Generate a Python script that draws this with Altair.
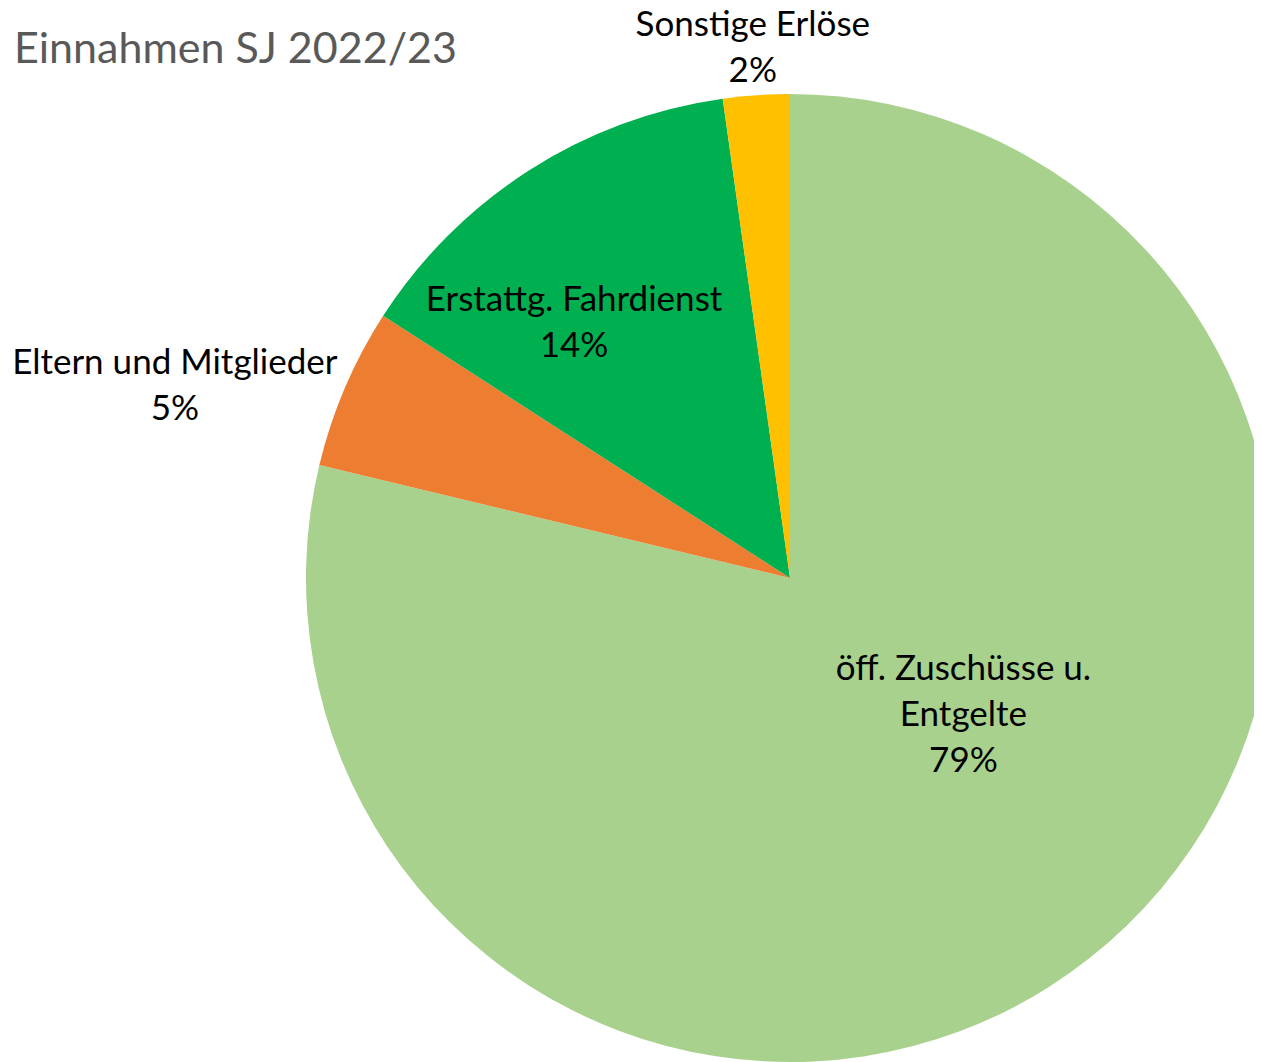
import altair as alt
import pandas as pd

categories = ["öff. Zuschüsse u. Entgelte", "Eltern und Mitglieder", "Erstattg. Fahrdienst", "Sonstige Erlöse"]
shares = [78.75, 5.36, 13.67, 2.22]
pct_labels = ["79%", "5%", "14%", "2%"]
colors = ["#A9D18E", "#ED7D31", "#00B050", "#FFC000"]
label_text = ["öff. Zuschüsse u.\nEntgelte", "Eltern und Mitglieder", "Erstattg. Fahrdienst", "Sonstige Erlöse"]
title_text = "Einnahmen SJ 2022/23"

df = pd.DataFrame({
    "cat": categories,
    "value": shares,
    "idx": list(range(len(categories))),
    "label": [t + "\n" + p for t, p in zip(label_text, pct_labels)],
})

LH = 46
# label placement (layout only): radius from centre and pixel nudges
label_layout = {
    categories[0]: (222, 36, -37 - LH),
    categories[1]: (644, -23, 61 - LH / 2),
    categories[2]: (334, -36, 26 - LH / 2),
    categories[3]: (534, 0, 3 - LH / 2),
}

CX, CY, R = 782, 570, 484
FONT = "Lato"

base = alt.Chart(df).encode(
    theta=alt.Theta("value:Q", stack=True),
    order=alt.Order("idx:Q", sort="ascending"),
)

pie = base.mark_arc(radius=R, stroke=None).encode(
    x=alt.value(CX), y=alt.value(CY),
    color=alt.Color("cat:N", scale=alt.Scale(domain=categories, range=colors), legend=None),
)

layers = [pie]
for c in categories:
    r, dx, dy = label_layout[c]
    txt = base.mark_text(
        font=FONT, fontSize=35, color="#000000", lineBreak="\n",
        align="center", baseline="middle", lineHeight=LH, dx=dx, dy=dy,
    ).encode(
        x=alt.value(CX), y=alt.value(CY),
        radius=alt.value(r),
        text="label:N",
        opacity=alt.condition(alt.datum.cat == c, alt.value(1), alt.value(0)),
    )
    layers.append(txt)

title = alt.Chart(pd.DataFrame({"t": [title_text]})).mark_text(
    font=FONT, fontSize=43, color="#595959", align="left", baseline="alphabetic",
).encode(x=alt.value(6), y=alt.value(55), text="t:N")
layers.append(title)

chart = alt.layer(*layers).properties(
    width=1246, height=1054, padding=0,
    autosize=alt.AutoSizeParams(type="none"),
).configure_view(stroke=None)

chart.save("out.html", embed_options={"renderer": "svg", "actions": False})
